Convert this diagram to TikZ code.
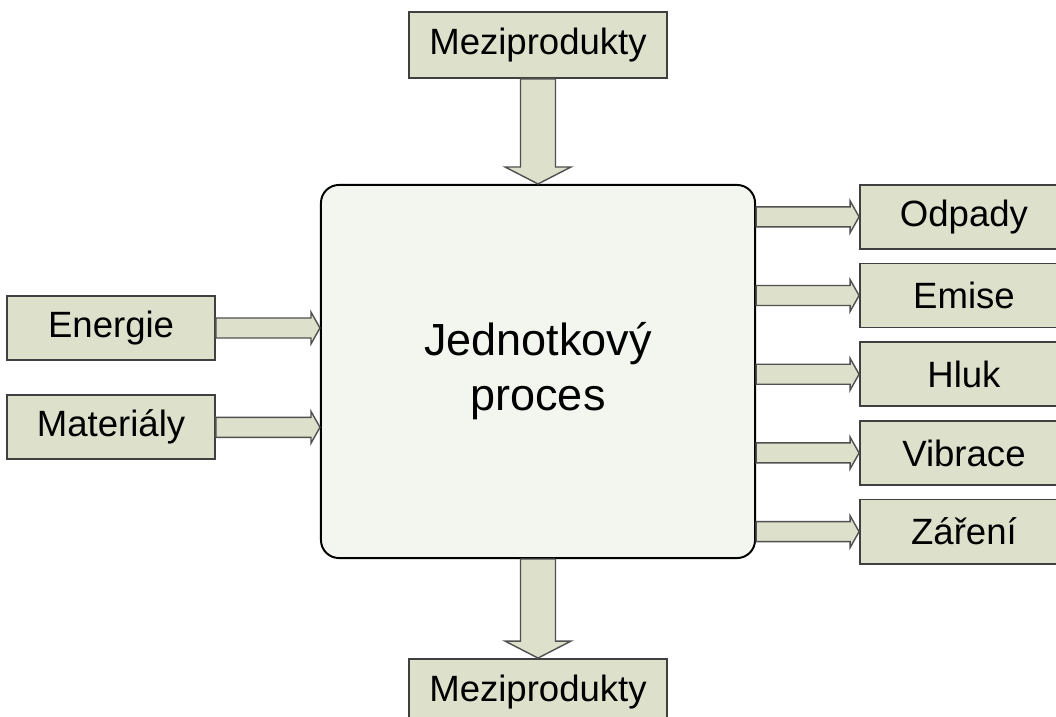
\documentclass[tikz,border=0pt]{standalone}
\usepackage{fontspec}
\setmainfont{Liberation Sans}
\usetikzlibrary{positioning}
\usetikzlibrary{calc}

\definecolor{boxfill}{RGB}{221,224,203}
\definecolor{procfill}{RGB}{243,245,239}
\definecolor{boxline}{RGB}{64,64,64}
\definecolor{flowline}{RGB}{80,80,80}

% fat arrow to the right, tip at #2
\newcommand{\hflow}[2]{%
  \draw[flowarrow] ($(#1)+(0,-10)$) -- ($(#2)+(-9,-10)$) -- ($(#2)+(-9,-16)$) -- (#2)
    -- ($(#2)+(-9,16)$) -- ($(#2)+(-9,10)$) -- ($(#1)+(0,10)$) -- cycle;}
% fat arrow downwards, tip at #2
\newcommand{\vflow}[2]{%
  \draw[flowarrow] ($(#1)+(-17.5,0)$) -- ($(#2)+(-17.5,-17)$) -- ($(#2)+(-33,-17)$) -- (#2)
    -- ($(#2)+(33,-17)$) -- ($(#2)+(17.5,-17)$) -- ($(#1)+(17.5,0)$) -- cycle;}

\begin{document}
\begin{tikzpicture}[
                x=0.025cm, y=-0.025cm,
                procnode/.style={rectangle, rounded corners=0.45cm, draw=black, fill=procfill, line width=1.4pt, minimum width=10.85cm, minimum height=9.325cm, align=center, font=\fontsize{32}{39}\selectfont},
                mezinode/.style={rectangle, draw=boxline, fill=boxfill, line width=1.2pt, minimum width=6.45cm, minimum height=1.65cm, font=\fontsize{26}{30}\selectfont},
                sidenode/.style={mezinode, minimum width=5.2cm, minimum height=1.6cm},
                flowarrow/.style={draw=flowline, fill=boxfill, line width=1pt, line join=miter},
            ]
            \useasboundingbox (0,0) rectangle (1056,716);
            \clip (0,0) rectangle (1056,716);

            % Nodes
            \node[procnode]     (proc)    at (538,371.5)    {Jednotkový\\proces};

            \node[mezinode]     (mezi_in)     [above=2.625cm of proc]    {Meziprodukty};
            \node[mezinode]     (mezi_out)    [below=2.475cm of proc]    {Meziprodukty};

            \node[sidenode]     (energie)     [left=2.6cm of proc.west, yshift=1.0875cm]    {Energie};
            \node[sidenode]     (materialy)   [below=0.84cm of energie]    {Materiály};

            \node[sidenode]     (odpady)      [below right=0cm and 2.575cm of proc.north east]    {Odpady};
            \node[sidenode]     (emise)       [below=0.325cm of odpady]    {Emise};
            \node[sidenode]     (hluk)        [below=0.325cm of emise]    {Hluk};
            \node[sidenode]     (vibrace)     [below=0.325cm of hluk]    {Vibrace};
            \node[sidenode]     (zareni)      [below=0.325cm of vibrace]    {Záření};

            \coordinate (in_energie)   at (proc.west |- energie.east);
            \coordinate (in_materialy) at (proc.west |- materialy.east);
            \coordinate (out_odpady)   at (proc.east |- odpady.west);
            \coordinate (out_emise)    at (proc.east |- emise.west);
            \coordinate (out_hluk)     at (proc.east |- hluk.west);
            \coordinate (out_vibrace)  at (proc.east |- vibrace.west);
            \coordinate (out_zareni)   at (proc.east |- zareni.west);

            %Lines
            \vflow{mezi_in.south}{proc.north}
            \vflow{proc.south}{mezi_out.north}

            \hflow{energie.east}{in_energie}
            \hflow{materialy.east}{in_materialy}

            \hflow{out_odpady}{odpady.west}
            \hflow{out_emise}{emise.west}
            \hflow{out_hluk}{hluk.west}
            \hflow{out_vibrace}{vibrace.west}
            \hflow{out_zareni}{zareni.west}
        \end{tikzpicture}
\end{document}
